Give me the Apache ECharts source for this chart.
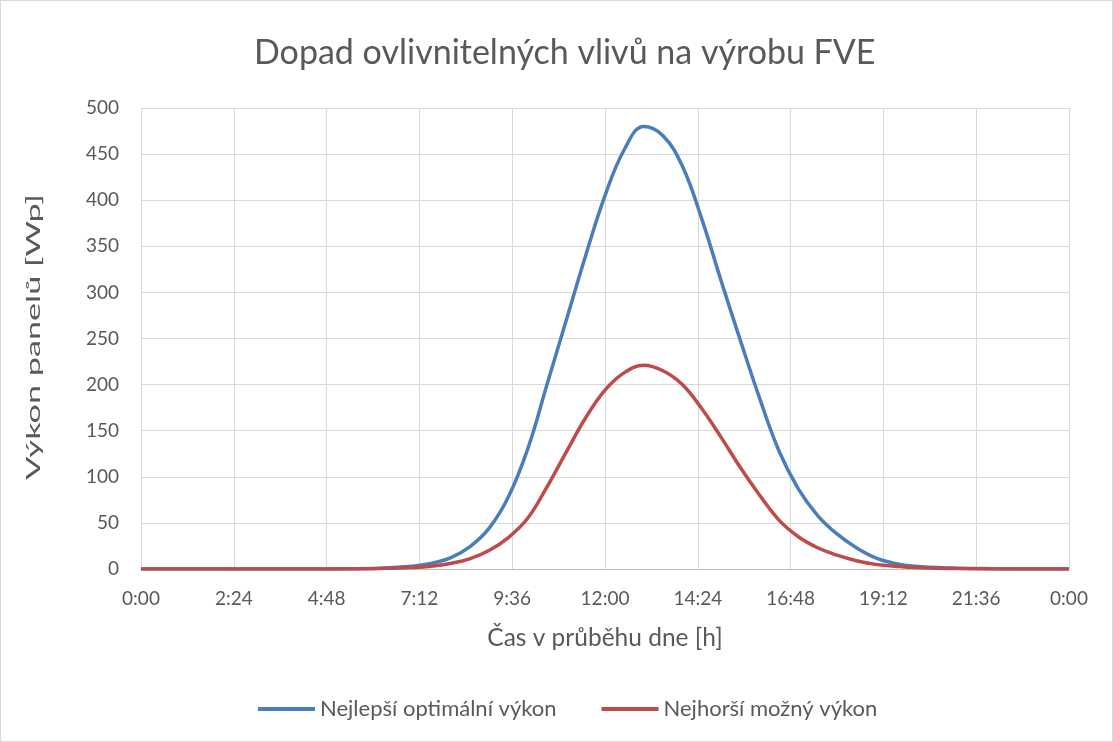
<!DOCTYPE html>
<html>
<head>
<meta charset="utf-8">
<script src="https://cdn.jsdelivr.net/npm/echarts@6/dist/echarts.min.js"></script>
<style>
html,body{margin:0;padding:0;background:#fff;}
#c{width:1113px;height:742px;box-sizing:border-box;border:1px solid #d9d9d9;}
</style>
</head>
<body>
<div id="c"></div>
<script>
const titleText = "Dopad ovlivnitelných vlivů na výrobu FVE";
const xAxisName = "Čas v průběhu dne [h]";
const yAxisName = "Výkon panelů [Wp]";
const seriesNames = ["Nejlepší optimální výkon", "Nejhorší možný výkon"];
// time of day in hours
const hours = [0,1,2,3,4,5,6,6.5,7,7.5,8,8.5,9,9.5,10,10.5,11,11.5,12,12.5,13,13.5,14,14.5,15,15.5,16,16.5,17,17.5,18,18.5,19,19.5,20,21,22,23,24];
const bestValues  = [0,0,0,0,0,0,0.5,1.5,3,6,12,24,44,78,130,200,270,340,405,455,480,470,437,380,313,248,185,128,87,58,38,23,12,6,3,1,0.3,0,0];
const worstValues = [0,0,0,0,0,0,0.3,0.8,1.5,3,6,11,20,34,55,89,127,164,194,213,221,215,200,174,143,110,80,53,35,23,15,9,5,3,1.5,0.5,0.1,0,0];

function fmtTime(v){
  let m = Math.round(v*60) % (24*60);
  const h = Math.floor(m/60); const mm = m%60;
  return h + ":" + (mm<10?"0":"") + mm;
}
const font = "Lato, 'Open Sans', sans-serif";
const txt = '#595959';
const chart = echarts.init(document.getElementById('c'));
chart.setOption({
  animation:false,
  title:{text:titleText,left:248,top:30,textStyle:{fontFamily:font,fontSize:34,fontWeight:'normal',color:txt}},
  grid:{left:140,right:43,top:107,bottom:172},
  legend:{bottom:16,left:252,itemWidth:57,itemHeight:4,itemGap:45,
    icon:'rect',
    textStyle:{fontFamily:font,fontSize:22,color:txt},
    data:seriesNames},
  graphic:[{type:'text',
    style:{text:yAxisName,fontFamily:font,fontSize:19,fill:txt,align:'center',verticalAlign:'middle'},
    rotation:Math.PI/2, scaleX:1.8, scaleY:1.05,
    x:33, y:336}],
  xAxis:{type:'value',min:0,max:24,interval:2.4,
    name:xAxisName,nameLocation:'middle',nameGap:57,
    nameTextStyle:{fontFamily:font,fontSize:24.5,color:txt},
    axisLine:{show:true,lineStyle:{color:'#bfbfbf',width:1}},
    axisTick:{show:false},
    axisLabel:{formatter:fmtTime,fontFamily:font,fontSize:19,color:txt,margin:20,showMaxLabel:true,showMinLabel:true},
    splitLine:{show:true,lineStyle:{color:'#d9d9d9',width:1}}},
  yAxis:{type:'value',min:0,max:500,interval:50,
    axisLine:{show:false},axisTick:{show:false},
    axisLabel:{fontFamily:font,fontSize:19,color:txt,margin:22},
    splitLine:{show:true,lineStyle:{color:'#d9d9d9',width:1}}},
  series:[
    {name:seriesNames[0],type:'line',smooth:0.4,showSymbol:false,
     data:hours.map((h,i)=>[h,bestValues[i]]),
     lineStyle:{color:'#4a7ebb',width:3.5},itemStyle:{color:'#4a7ebb'}},
    {name:seriesNames[1],type:'line',smooth:0.4,showSymbol:false,
     data:hours.map((h,i)=>[h,worstValues[i]]),
     lineStyle:{color:'#be4b48',width:3.5},itemStyle:{color:'#be4b48'}}
  ]
});
</script>
</body>
</html>
